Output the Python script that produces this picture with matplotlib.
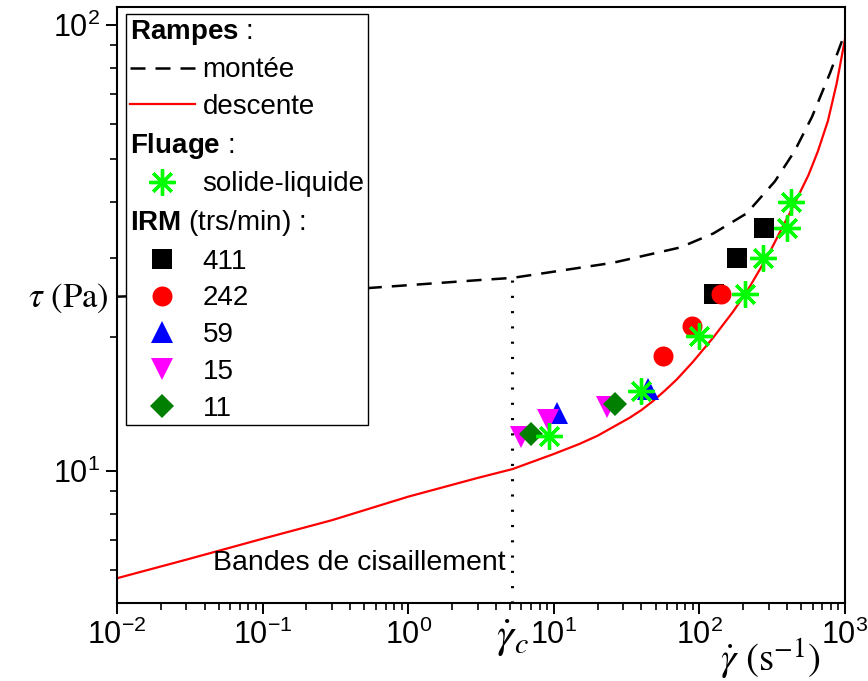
import matplotlib
matplotlib.use("Agg")
import matplotlib.pyplot as plt
from matplotlib.lines import Line2D
from matplotlib.ticker import LogLocator, NullFormatter

plt.rcParams['font.family'] = ['Liberation Sans', 'DejaVu Sans']
plt.rcParams['mathtext.fontset'] = 'custom'
plt.rcParams['mathtext.rm'] = 'Liberation Sans'
plt.rcParams['mathtext.it'] = 'Liberation Sans:italic'
plt.rcParams['mathtext.bf'] = 'Liberation Sans:bold'

# ---- data ----
# ramps (flow curves)
up_rate = [0.01, 0.1, 0.52, 3.1, 5.2, 25.5, 73.6, 125, 211, 330, 450, 593, 789, 1000]
up_stress = [24.6, 25.1, 25.7, 26.8, 27.1, 29.3, 31.7, 34.1, 37.8, 44.6, 52.1, 62.2, 78.0, 96.0]
down_rate = [0.01, 0.03, 0.1, 0.3, 1.0, 3.0, 5.2, 10, 15, 20, 25, 33, 40, 48, 58, 70, 90,
             125, 170, 211, 260, 305, 360, 420, 480, 560, 650, 764, 877, 1000]
down_stress = [5.75, 6.33, 7.05, 7.76, 8.76, 9.65, 10.1, 10.92, 11.5, 12.0, 12.5, 13.15,
               13.7, 14.35, 15.15, 16.05, 17.55, 19.95, 22.75, 25.2, 28.3, 31.0, 34.5,
               38.0, 41.5, 46.0, 52.0, 61.0, 74.0, 93.0]

# creep (solide-liquide)
creep_rate = [9.2, 39.5, 99, 206, 272, 398, 424]
creep_stress = [12.0, 15.1, 20.1, 25.0, 30.1, 35.0, 40.0]

# MRI (trs/min)
mri_411_rate = [125, 180, 279]
mri_411_stress = [25.0, 30.1, 35.1]
mri_242_rate = [56, 88.5, 140]
mri_242_stress = [18.1, 21.1, 25.0]
mri_59_rate = [10.6, 44.6]
mri_59_stress = [13.5, 15.3]
mri_15_rate = [6.0, 9.1, 23.1]
mri_15_stress = [11.9, 13.0, 13.9]
mri_11_rate = [7.0, 26.2]
mri_11_stress = [12.1, 14.1]

gamma_c = 5.2
gamma_c_stress = 27.1

x_ticks = [0.01, 0.1, 1, 10, 100, 1000]
x_ticklabels = [r'$10^{-2}$', r'$10^{-1}$', r'$10^{0}$', r'$10^{1}$', r'$10^{2}$', r'$10^{3}$']
y_ticks = [10, 100]
y_ticklabels = [r'$10^{1}$', r'$10^{2}$']

# ---- figure ----
fig = plt.figure(figsize=(8.68, 6.81), dpi=100)
ax = fig.add_axes([117/868, 1-603/681, (845-117)/868, (603-7)/681])
ax.set_xscale('log')
ax.set_yscale('log')
ax.set_xlim(0.01, 1000)
ax.set_ylim(5.06, 109.7)

ax.plot(up_rate, up_stress, color='black', lw=1.8, dashes=(6, 4), zorder=2)
ax.plot(down_rate, down_stress, color='#ff0000', lw=1.6, zorder=2)
ax.plot([gamma_c, gamma_c], [5.06, gamma_c_stress], color='black', lw=2.2,
        dashes=(0.7, 4.3), zorder=2)

ms_sq, ms_ci, ms_tr, ms_di, ms_as = 13.7, 14.4, 16.0, 12.7, 18.7
ax.plot(mri_411_rate, mri_411_stress, ls='none', marker='s', ms=ms_sq, color='black', mew=0, zorder=3)
ax.plot(mri_242_rate, mri_242_stress, ls='none', marker='o', ms=ms_ci, color='#ff0000', mew=0, zorder=3)
ax.plot(mri_59_rate, mri_59_stress, ls='none', marker='^', ms=ms_tr, color='#0000ff', mew=0, zorder=3)
ax.plot(mri_15_rate, mri_15_stress, ls='none', marker='v', ms=ms_tr, color='#ff00ff', mew=0, zorder=3)
ax.plot(mri_11_rate, mri_11_stress, ls='none', marker='D', ms=ms_di, color='#007f00', mew=0, zorder=3)
ax.plot(creep_rate, creep_stress, ls='none', marker=(8, 2, 0), ms=ms_as, color='#00ff00', mew=2.4, zorder=4)

# axes styling
for s in ax.spines.values():
    s.set_linewidth(1.5)
ax.tick_params(which='major', length=8, width=1.4, direction='out', labelsize=22, pad=4)
ax.tick_params(which='minor', length=5, width=1.2, direction='out')
ax.set_xticks(x_ticks)
ax.set_xticklabels(x_ticklabels)
ax.set_yticks(y_ticks)
ax.set_yticklabels(y_ticklabels)
ax.xaxis.set_minor_locator(LogLocator(base=10, subs=range(2, 10), numticks=20))
ax.yaxis.set_minor_locator(LogLocator(base=10, subs=range(2, 10), numticks=20))
ax.xaxis.set_minor_formatter(NullFormatter())
ax.yaxis.set_minor_formatter(NullFormatter())

# labels
fig.text(68/868, 1-298/681, r'$\tau\ (\mathrm{Pa})$', math_fontfamily='stix',
         fontsize=25, ha='center', va='center')
fig.text(771/868, 1-659/681, r'$\dot{\gamma}\ (\mathrm{s}^{-1})$', math_fontfamily='stix',
         fontsize=28, ha='center', va='center')
fig.text(513/868, 1-638/681, r'$\dot{\gamma}_c$', math_fontfamily='stix',
         fontsize=31, ha='center', va='center')
ax.text(4.65, 6.22, 'Bandes de cisaillement', fontsize=20.5, ha='right', va='center')

# legend
blank = Line2D([], [], ls='none')
handles = [
    blank,
    Line2D([], [], color='black', lw=1.8, dashes=(6, 4)),
    Line2D([], [], color='#ff0000', lw=1.6),
    blank,
    Line2D([], [], ls='none', marker=(8, 2, 0), ms=ms_as, color='#00ff00', mew=2.4),
    blank,
    Line2D([], [], ls='none', marker='s', ms=ms_sq, color='black', mew=0),
    Line2D([], [], ls='none', marker='o', ms=ms_ci, color='#ff0000', mew=0),
    Line2D([], [], ls='none', marker='^', ms=ms_tr, color='#0000ff', mew=0),
    Line2D([], [], ls='none', marker='v', ms=ms_tr, color='#ff00ff', mew=0),
    Line2D([], [], ls='none', marker='D', ms=ms_di, color='#007f00', mew=0),
]
labels = [r'$\mathbf{Rampes}$ :', 'montée', 'descente', r'$\mathbf{Fluage}$ :', 'solide-liquide',
          r'$\mathbf{IRM}$ (trs/min) :', '411', '242', '59', '15', '11']
leg = ax.legend(handles, labels, loc='upper left',
                bbox_to_anchor=((126-117)/728, 1-(14-7)/596), borderaxespad=0,
                fontsize=20, frameon=True, fancybox=False, framealpha=1,
                edgecolor='black', handlelength=2.35, handletextpad=0.28,
                borderpad=0.13, labelspacing=0.385)
leg.get_frame().set_linewidth(1.0)
# header rows: no handle space, text starts at left
try:
    col = leg._legend_handle_box.get_children()[0]
    rows = col.get_children()
    for i in (0, 3, 5):
        rows[i]._children = [rows[i]._children[1]]
except Exception:
    pass

fig.savefig('out.png', dpi=100)
